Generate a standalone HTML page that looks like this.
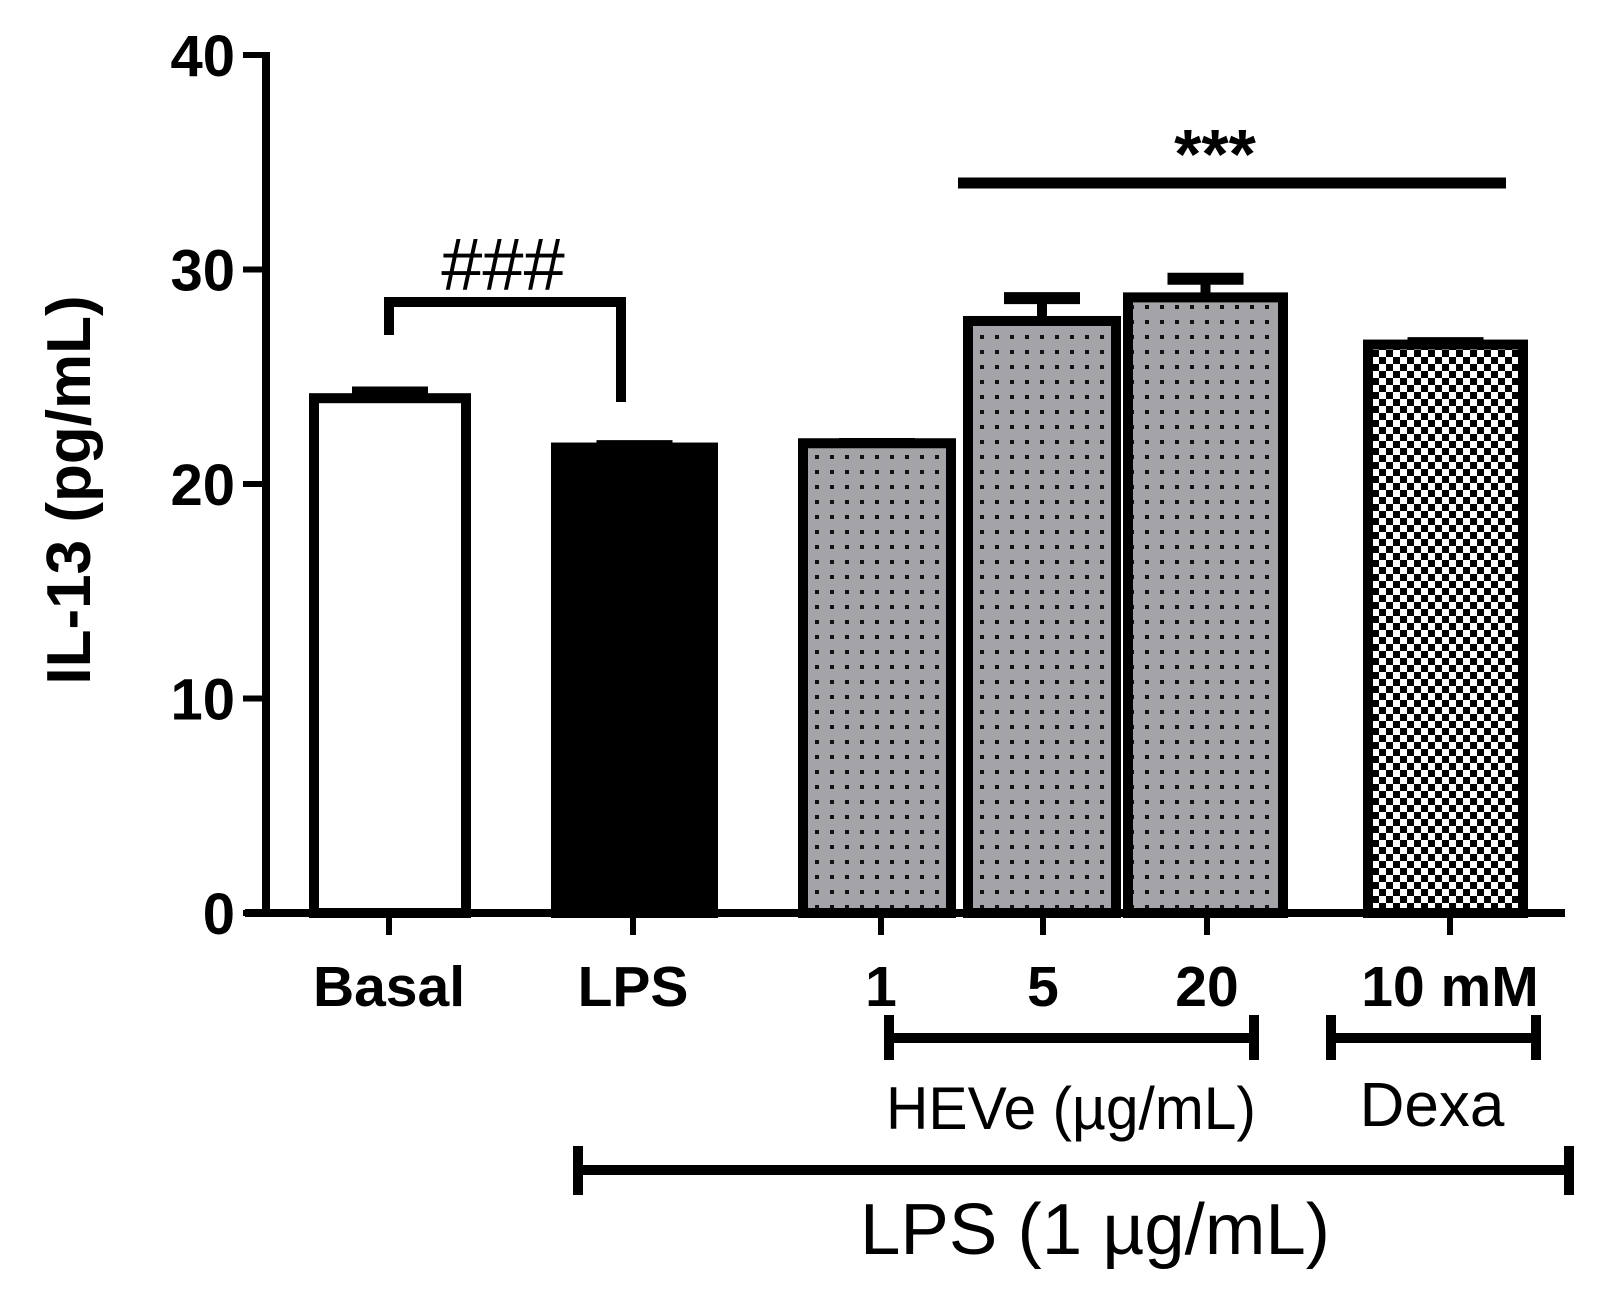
<!DOCTYPE html>
<html><head><meta charset="utf-8"><style>
html,body{margin:0;padding:0;background:#fff;}
svg{display:block;}
text{font-family:"Liberation Sans",Arial,sans-serif;fill:#000;}
</style></head><body>
<svg id="chart" width="1607" height="1291" viewBox="0 0 1607 1291" xmlns="http://www.w3.org/2000/svg">
<defs>
<pattern id="dots" width="15" height="15" patternUnits="userSpaceOnUse">
<rect width="15" height="15" fill="#a3a3a8"/><rect x="5" y="5" width="4" height="4" fill="#111"/>
</pattern>
<pattern id="checker" width="14" height="14" patternUnits="userSpaceOnUse">
<rect width="14" height="14" fill="#fff"/><rect width="7" height="7" fill="#000"/><rect x="7" y="7" width="7" height="7" fill="#000"/>
</pattern>
</defs>
<g id="bars"></g>
<g id="axes"></g>
<g id="annot"></g>
</svg>
<script>
const categories = ["Basal","LPS","1","5","20","10 mM"];
const values = [24.0, 21.7, 21.9, 27.6, 28.7, 26.5];
const errors = [0.5, 0.3, 0.2, 1.3, 1.1, 0.3];
const fills = ["#fff","#000","url(#dots)","url(#dots)","url(#dots)","url(#checker)"];
const yTicks = [0,10,20,30,40];

const NS="http://www.w3.org/2000/svg";
const y0=913, y40=55;
function yScale(v){return y0-(y0-y40)*v/40;}
const barLeft=[309,551,798,963,1123,1363];
const barRight=[471,718,956,1121,1288,1528];
const tickX=[389,633,881,1043,1207,1450];
function mk(tag,attrs,parent,txt){const e=document.createElementNS(NS,tag);for(const k in attrs)e.setAttribute(k,attrs[k]);if(txt!==undefined)e.textContent=txt;parent.appendChild(e);return e;}
const gb=document.getElementById('bars'), ga=document.getElementById('axes'), gn=document.getElementById('annot');
const sw=10;
categories.forEach((c,i)=>{
  const top=yScale(values[i]);
  const cx=(barLeft[i]+barRight[i])/2;
  const et=yScale(values[i]+errors[i]);
  const el=mk('line',{x1:cx,x2:cx,y1:top,y2:et,stroke:'#000','stroke-width':sw},gb);
  
  
  const cap=mk('line',{x1:cx-38,x2:cx+38,y1:et+5,y2:et+5,stroke:'#000','stroke-width':12},gb);
  
  
  const r=mk('rect',{x:barLeft[i]+sw/2,y:top,width:barRight[i]-barLeft[i]-sw,height:y0-top,fill:fills[i],stroke:'#000','stroke-width':sw},gb);
  
  
  const t=mk('line',{x1:tickX[i],x2:tickX[i],y1:y0,y2:y0+22,stroke:'#000','stroke-width':6},ga);
  
  
  const lb=mk('text',{x:tickX[i],y:1006,'font-size':57,'font-weight':'bold','text-anchor':'middle'},ga,c);
  
  
});
const ax=mk('line',{x1:266,x2:266,y1:y40-3,y2:y0+3,stroke:'#000','stroke-width':8},ga);


const xx=mk('line',{x1:245,x2:1565,y1:y0,y2:y0,stroke:'#000','stroke-width':8},ga);


yTicks.forEach(v=>{
  const y=yScale(v);
  const tk=mk('line',{x1:243,x2:266,y1:y,y2:y,stroke:'#000','stroke-width':6},ga);
  
  
  const tl=mk('text',{x:235,y:y+21,'font-size':58,'font-weight':'bold','text-anchor':'end'},ga,String(v));
  
  
});
</script>
<script>
(function(){
const g=document.getElementById('annot');
function add(html){g.insertAdjacentHTML('beforeend',html);}
add('<text transform="translate(90,490) rotate(-90)" font-size="62" font-weight="bold" text-anchor="middle">IL-13 (pg/mL)</text>');
add('<path d="M389,335 V302 H621 V402" fill="none" stroke="#000" stroke-width="10"/>');
add('<text x="503" y="290" font-size="74" text-anchor="middle">###</text>');
add('<line x1="958" x2="1506" y1="183" y2="183" stroke="#000" stroke-width="11"/>');
add('<text x="1215" y="178" font-size="70" font-weight="bold" text-anchor="middle">***</text>');
add('<path d="M889,1015 V1060 M889,1038 H1254 M1254,1015 V1060" fill="none" stroke="#000" stroke-width="10"/>');
add('<text x="886" y="1129" font-size="60" textLength="370" lengthAdjust="spacingAndGlyphs">HEVe (µg/mL)</text>');
add('<path d="M1331,1015 V1060 M1331,1038 H1536 M1536,1015 V1060" fill="none" stroke="#000" stroke-width="10"/>');
add('<text x="1432" y="1126" font-size="62" text-anchor="middle">Dexa</text>');
add('<path d="M578,1146 V1195 M578,1170 H1569 M1569,1146 V1195" fill="none" stroke="#000" stroke-width="10"/>');
add('<text x="860" y="1254" font-size="72" textLength="470" lengthAdjust="spacingAndGlyphs">LPS (1 µg/mL)</text>');
})();
</script>
</body></html>
